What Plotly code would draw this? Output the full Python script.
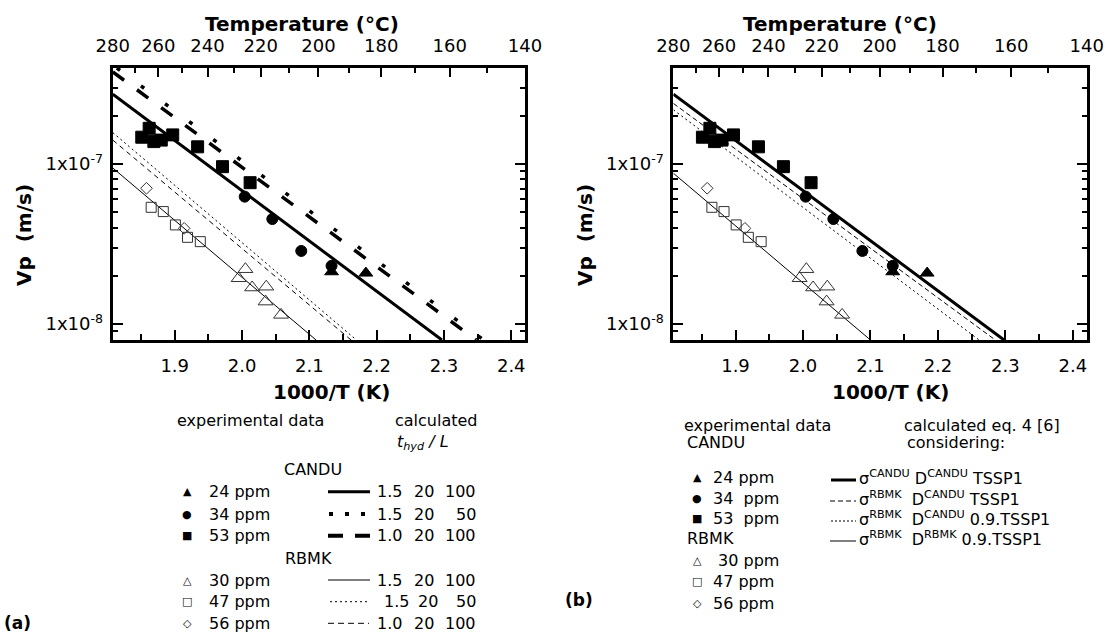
import numpy as np
import plotly.graph_objects as go

W, H = 1112, 636
FONT = "DejaVu Sans"

# ---------------- data ----------------
temp_major = [280, 260, 240, 220, 200, 180, 160, 140]
temp_minor = [270, 250, 230, 210, 190, 170, 150]
inv_major = [1.9, 2.0, 2.1, 2.2, 2.3, 2.4]
inv_minor = [1.85, 1.95, 2.05, 2.15, 2.25, 2.35]
y_major = [1e-8, 1e-7]
y_major_text = ["1x10<sup>-8</sup>", "1x10<sup>-7</sup>"]
y_minor = [8e-9, 9e-9, 2e-8, 3e-8, 4e-8, 5e-8, 6e-8, 7e-8, 8e-8, 9e-8, 2e-7, 3e-7, 4e-7]

# experimental data (1000/T, Vp m/s)
candu24_x = [2.133, 2.184]
candu24_y = [2.12e-8, 2.08e-8]
candu34_x = [2.004, 2.045, 2.088, 2.133]
candu34_y = [6.25e-8, 4.53e-8, 2.86e-8, 2.31e-8]
candu53_x = [1.851, 1.862, 1.869, 1.880, 1.897, 1.934, 1.971, 2.012]
candu53_y = [1.47e-7, 1.67e-7, 1.38e-7, 1.41e-7, 1.52e-7, 1.28e-7, 9.62e-8, 7.64e-8]
rbmk30_x = [1.995, 2.005, 2.015, 2.036, 2.035, 2.058]
rbmk30_y = [1.93e-8, 2.20e-8, 1.69e-8, 1.71e-8, 1.38e-8, 1.14e-8]
rbmk47_x = [1.865, 1.883, 1.901, 1.919, 1.938]
rbmk47_y = [5.36e-8, 5.04e-8, 4.16e-8, 3.48e-8, 3.27e-8]
rbmk56_x = [1.858, 1.914]
rbmk56_y = [7.05e-8, 3.96e-8]

# calculated lines, panel (a)
a_candu_15_100_x = [1.808, 2.297]
a_candu_15_100_y = [2.73e-7, 7.94e-9]
a_candu_15_50_x = [1.814, 2.359]
a_candu_15_50_y = [3.98e-7, 7.94e-9]
a_candu_10_100_x = [1.808, 2.348]
a_candu_10_100_y = [3.76e-7, 7.94e-9]
a_rbmk_15_100_x = [1.808, 2.110]
a_rbmk_15_100_y = [9.44e-8, 7.94e-9]
a_rbmk_15_50_x = [1.808, 2.170]
a_rbmk_15_50_y = [1.57e-7, 7.94e-9]
a_rbmk_10_100_x = [1.808, 2.162]
a_rbmk_10_100_y = [1.41e-7, 7.94e-9]

# calculated lines, panel (b)
b_sc_dc_x = [1.808, 2.298]
b_sc_dc_y = [2.73e-7, 7.94e-9]
b_sr_dc_x = [1.808, 2.285]
b_sr_dc_y = [2.39e-7, 7.94e-9]
b_sr_dc09_x = [1.808, 2.261]
b_sr_dc09_y = [2.18e-7, 7.94e-9]
b_sr_dr09_x = [1.808, 2.100]
b_sr_dr09_y = [8.75e-8, 7.94e-9]

candu_labels = ["24 ppm", "34 ppm", "53 ppm"]
rbmk_labels = ["30 ppm", "47 ppm", "56 ppm"]
a_calc_labels = [("1.5", "20", "100"), ("1.5", "20", "50"), ("1.0", "20", "100")]
b_calc_labels = [
    "σ<sup>CANDU</sup> D<sup>CANDU</sup> TSSP1",
    "σ<sup>RBMK</sup>  D<sup>CANDU</sup> TSSP1",
    "σ<sup>RBMK</sup>  D<sup>CANDU</sup> 0.9.TSSP1",
    "σ<sup>RBMK</sup>  D<sup>RBMK</sup> 0.9.TSSP1",
]

# ---------------- helpers ----------------
def c2inv(c):
    return 1000.0 / (c + 273.15)

x_range = [c2inv(280), c2inv(140)]
y_range = [np.log10(7.94e-9), np.log10(3.98e-7)]

def px(x):
    return x / W

def py(y):
    return 1 - y / H

TICKFONT = dict(family=FONT, size=18, color="black")

def bottom_axis(domain, anchor):
    return dict(domain=domain, anchor=anchor, range=x_range, showgrid=False, zeroline=False,
                automargin=False,
                showline=True, linewidth=3, linecolor="black", mirror=False,
                ticks="inside", ticklen=10, tickwidth=2, tickcolor="black",
                tickmode="array", tickvals=inv_major, ticktext=[f"{v:.1f}" for v in inv_major],
                tickfont=TICKFONT, ticklabelstandoff=7,
                minor=dict(tickmode="array", tickvals=inv_minor, ticks="inside", ticklen=6,
                           tickwidth=2, tickcolor="black", showgrid=False))

def top_axis(overlay, anchor):
    return dict(overlaying=overlay, anchor=anchor, side="top", range=x_range, showgrid=False,
                zeroline=False, automargin=False, showline=True, linewidth=3, linecolor="black",
                ticks="inside", ticklen=9, tickwidth=2, tickcolor="black",
                tickmode="array", tickvals=[c2inv(c) for c in temp_major],
                ticktext=[str(c) for c in temp_major], tickfont=TICKFONT, ticklabelstandoff=6,
                minor=dict(tickmode="array", tickvals=[c2inv(c) for c in temp_minor], ticks="inside",
                           ticklen=5, tickwidth=2, tickcolor="black", showgrid=False))

def left_axis(domain, anchor):
    return dict(domain=domain, anchor=anchor, type="log", range=y_range, showgrid=False,
                zeroline=False, automargin=False, showline=True, linewidth=3, linecolor="black",
                mirror="ticks",
                ticks="inside", ticklen=10, tickwidth=2, tickcolor="black",
                tickmode="array", tickvals=y_major, ticktext=y_major_text,
                tickfont=TICKFONT, ticklabelstandoff=3,
                minor=dict(tickmode="array", tickvals=y_minor, ticks="inside", ticklen=5,
                           tickwidth=2, tickcolor="black", showgrid=False))

fig = go.Figure()

def add_markers(xa, ya):
    sets = [
        (candu24_x, candu24_y, "triangle-up", 12, "black", "black"),
        (candu34_x, candu34_y, "circle", 11, "black", "black"),
        (candu53_x, candu53_y, "square", 12, "black", "black"),
        (rbmk30_x, rbmk30_y, "triangle-up-open", 13, "#333", "#333"),
        (rbmk47_x, rbmk47_y, "square-open", 10, "#333", "#333"),
        (rbmk56_x, rbmk56_y, "diamond-open", 9, "#333", "#333"),
    ]
    for x, y, sym, sz, col, lc in sets:
        fig.add_trace(go.Scatter(x=x, y=y, mode="markers", xaxis=xa, yaxis=ya, showlegend=False,
                                 marker=dict(symbol=sym, size=sz, color=col,
                                             line=dict(color=lc, width=1))))

def add_line(x, y, xa, ya, width, dash):
    fig.add_trace(go.Scatter(x=x, y=y, mode="lines", xaxis=xa, yaxis=ya, showlegend=False,
                             line=dict(color="black", width=width, dash=dash)))

# invisible helper traces so that the temperature (top) axes are drawn
for xa, ya in (("x2", "y"), ("x4", "y2")):
    fig.add_trace(go.Scatter(x=[c2inv(c) for c in temp_major], y=[None] * len(temp_major),
                             mode="markers", xaxis=xa, yaxis=ya, showlegend=False,
                             hoverinfo="skip", marker=dict(opacity=0)))

# panel (a)
add_line(a_candu_15_100_x, a_candu_15_100_y, "x", "y", 3, "solid")
add_line(a_candu_15_50_x, a_candu_15_50_y, "x", "y", 3.5, "4px,26px")
add_line(a_candu_10_100_x, a_candu_10_100_y, "x", "y", 3.5, "14px,16px")
add_line(a_rbmk_15_100_x, a_rbmk_15_100_y, "x", "y", 1, "solid")
add_line(a_rbmk_15_50_x, a_rbmk_15_50_y, "x", "y", 1, "2px,3px")
add_line(a_rbmk_10_100_x, a_rbmk_10_100_y, "x", "y", 1, "5px,4px")
add_markers("x", "y")

# panel (b)
add_line(b_sc_dc_x, b_sc_dc_y, "x3", "y2", 3, "solid")
add_line(b_sr_dc_x, b_sr_dc_y, "x3", "y2", 1, "5px,3px")
add_line(b_sr_dc09_x, b_sr_dc09_y, "x3", "y2", 1, "2px,3px")
add_line(b_sr_dr09_x, b_sr_dr09_y, "x3", "y2", 1, "solid")
add_markers("x3", "y2")

ydom = [1 - 340 / H, 1 - 68 / H]
fig.update_layout(
    width=W, height=H, autosize=False,
    margin=dict(l=0, r=0, t=0, b=0, pad=0, autoexpand=False),
    paper_bgcolor="white", plot_bgcolor="white",
    showlegend=False,
    xaxis=bottom_axis([112.7 / W, 525 / W], "y"),
    xaxis2=top_axis("x", "y"),
    yaxis=left_axis(ydom, "x"),
    xaxis3=bottom_axis([673.3 / W, 1086.7 / W], "y2"),
    xaxis4=top_axis("x3", "y2"),
    yaxis2=left_axis(ydom, "x3"),
)

ann = []
shapes = []

def text(x, y, s, size=16, xanchor="center", bold=False, angle=0):
    ann.append(dict(x=px(x), y=py(y), xref="paper", yref="paper", text=(f"<b>{s}</b>" if bold else s),
                    showarrow=False, xanchor=xanchor, yanchor="middle", textangle=angle,
                    font=dict(family=FONT, size=size, color="black")))

def seg(x0, x1, y, width, dash):
    shapes.append(dict(type="line", xref="paper", yref="paper", x0=px(x0), x1=px(x1), y0=py(y), y1=py(y),
                       line=dict(color="black", width=width, dash=dash)))

# axis titles
for cx in (302, 840):
    text(cx, 24, "Temperature (°C)", size=20, bold=True)
text(331, 392, "1000/T (K)", size=20, bold=True)
text(890, 392, "1000/T (K)", size=20, bold=True)
text(24, 235, "Vp  (m/s)", size=20, bold=True, angle=-90)
text(585, 235, "Vp  (m/s)", size=20, bold=True, angle=-90)

# panel labels
text(2, 623, "(a)", size=17, xanchor="left", bold=True)
text(563, 600, "(b)", size=17, xanchor="left", bold=True)

# ---- legend (a)
text(250, 420, "experimental data")
text(436, 420, "calculated")
text(395, 442, "<i>t<sub>hyd</sub> / L</i>", xanchor="left")
text(313, 470, "CANDU")
text(308, 558, "RBMK")
a_rows_y = [491.7, 514, 535.7, 580, 601.7, 623.3]
glyphs = ["▲", "●", "■", "△", "□", "◇"]
labels = candu_labels + rbmk_labels
for g, lab, yy in zip(glyphs, labels, a_rows_y):
    text(187, yy, g, size=11)
    text(207, yy, lab, xanchor="left")
calc = a_calc_labels + a_calc_labels
for i, ((v1, v2, v3), yy) in enumerate(zip(calc, a_rows_y)):
    dx = 7 if i == 4 else 0
    text(375 + dx, yy, v1, xanchor="left")
    text(424 + dx / 2, yy, v2)
    text(478, yy, v3, xanchor="right")
seg(328, 370, a_rows_y[0], 3, "solid")
seg(329, 370, a_rows_y[1], 4, "4px,12px")
seg(328, 370, a_rows_y[2], 4, "15px,12px")
seg(328, 370, a_rows_y[3], 1, "solid")
seg(330, 367, a_rows_y[4], 1, "2px,3px")
seg(328, 369, a_rows_y[5], 1, "6px,4px")

# ---- legend (b)
text(682, 425, "experimental data", xanchor="left")
text(902, 425, "calculated eq. 4 [6]", xanchor="left")
text(685, 442, "CANDU", xanchor="left")
text(905, 442, "considering:", xanchor="left")
text(685, 538, "RBMK", xanchor="left")
b_rows_y = [477, 498, 518, 560, 581, 603]
b_labels = ["24 ppm", "34  ppm", "53  ppm", " 30 ppm", "47 ppm", "56 ppm"]
for g, lab, yy in zip(glyphs, b_labels, b_rows_y):
    text(697, yy, g, size=11)
    text(711, yy, lab, xanchor="left")
b_calc_y = [477, 498, 518, 538]
for s, yy in zip(b_calc_labels, b_calc_y):
    text(857, yy, s, xanchor="left")
seg(831, 856, b_calc_y[0] + 3, 3, "solid")
seg(830, 856, b_calc_y[1] + 3, 1, "5px,3px")
seg(831, 856, b_calc_y[2] + 3, 1, "2px,2px")
seg(830, 856, b_calc_y[3] + 3, 1, "solid")

fig.update_layout(annotations=ann, shapes=shapes)
fig.write_html("out.html")
